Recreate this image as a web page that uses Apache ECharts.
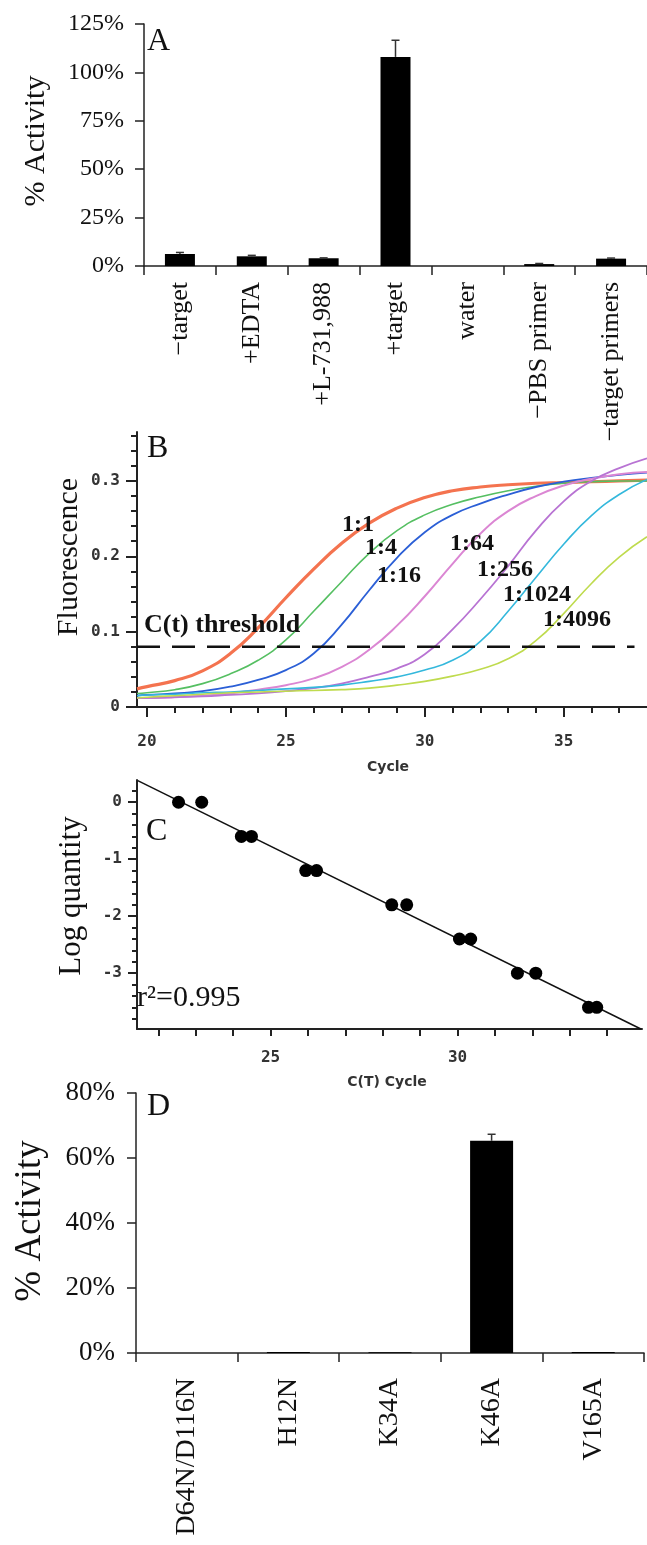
<!DOCTYPE html>
<html>
<head>
<meta charset="utf-8">
<script src="https://cdn.jsdelivr.net/npm/echarts@6/dist/echarts.min.js"></script>
<style>
  html, body { margin: 0; padding: 0; background: #fff; }
  #chart { width: 647px; height: 1545px; }
</style>
</head>
<body>
<div id="chart"></div>
<script>
// A: activity bars
const aCategories = ['−target', '+EDTA', '+L-731,988', '+target', 'water', '−PBS primer', '−target primers'];
const aValues = [6.2, 5.0, 4.0, 108, 0, 1.0, 3.8];
const aErrors = [0.8, 0.5, 0.2, 8.6, 0, 0.3, 0.3];

// B: amplification curves
const cycles = [19.64, 20, 21, 22, 23, 24, 25, 26, 27, 28, 29, 30, 31, 32, 33, 34, 35, 36, 37, 38];
const dil1 = [0.024, 0.027, 0.035, 0.048, 0.071, 0.105, 0.145, 0.183, 0.217, 0.244, 0.264, 0.278, 0.287, 0.292, 0.295, 0.297, 0.298, 0.299, 0.300, 0.301];
const dil4 = [0.018, 0.019, 0.023, 0.031, 0.044, 0.062, 0.089, 0.127, 0.166, 0.204, 0.234, 0.255, 0.269, 0.279, 0.287, 0.293, 0.297, 0.299, 0.300, 0.300];
const dil16 = [0.015, 0.016, 0.018, 0.021, 0.027, 0.036, 0.049, 0.071, 0.109, 0.155, 0.198, 0.232, 0.255, 0.270, 0.282, 0.292, 0.299, 0.304, 0.308, 0.311];
const dil64 = [0.012, 0.012, 0.013, 0.015, 0.018, 0.023, 0.029, 0.038, 0.053, 0.076, 0.108, 0.147, 0.190, 0.230, 0.260, 0.280, 0.294, 0.303, 0.309, 0.312];
const dil256 = [0.012, 0.012, 0.013, 0.014, 0.016, 0.018, 0.021, 0.025, 0.031, 0.040, 0.051, 0.070, 0.103, 0.143, 0.187, 0.234, 0.273, 0.300, 0.317, 0.330];
const dil1024 = [0.015, 0.016, 0.017, 0.019, 0.020, 0.022, 0.024, 0.026, 0.029, 0.034, 0.040, 0.049, 0.062, 0.087, 0.127, 0.172, 0.216, 0.254, 0.282, 0.302];
const dil4096 = [0.012, 0.013, 0.015, 0.017, 0.019, 0.020, 0.021, 0.022, 0.023, 0.025, 0.029, 0.034, 0.041, 0.050, 0.064, 0.088, 0.124, 0.164, 0.199, 0.226];
const threshold = 0.08;
const thresholdCycles = [19.64, 37.55];
const bMajorX = [20, 25, 30, 35];
const bMinorX = [20, 21, 22, 23, 24, 25, 26, 27, 28, 29, 30, 31, 32, 33, 34, 35, 36, 37];
const bMajorY = [0, 0.1, 0.2, 0.3];
const bMinorY = [0, 0.02, 0.04, 0.06, 0.08, 0.1, 0.12, 0.14, 0.16, 0.18, 0.2, 0.22, 0.24, 0.26, 0.28, 0.3, 0.32, 0.34, 0.36];

// C: standard curve
const ctCycle = [22.54, 23.16, 24.22, 24.49, 25.94, 26.23, 28.24, 28.64, 30.05, 30.35, 31.6, 32.09, 33.5, 33.72];
const logQty = [0, 0, -0.6, -0.6, -1.2, -1.2, -1.8, -1.8, -2.4, -2.4, -3.0, -3.0, -3.6, -3.6];
const fitX = [21.45, 34.9];
const fitY = [0.38, -3.98];
const cTicksX = [22, 23, 24, 25, 26, 27, 28, 29, 30, 31, 32, 33, 34];
const cLabelsX = [25, 30];
const cMajorY = [0, -1, -2, -3];
const cMinorY = [0.2, 0, -0.2, -0.4, -0.6, -0.8, -1, -1.2, -1.4, -1.6, -1.8, -2, -2.2, -2.4, -2.6, -2.8, -3, -3.2, -3.4, -3.6, -3.8];

// D: mutant activity
const dCategories = ['D64N/D116N', 'H12N', 'K34A', 'K46A', 'V165A'];
const dValues = [0, 0.3, 0.2, 65.3, 0.3];
const dErrors = [0, 0, 0, 2.0, 0];

const serif = 'Liberation Serif';
const mono = 'DejaVu Sans Mono';
const axisCol = '#222';

const chart = echarts.init(document.getElementById('chart'), null, { renderer: 'canvas' });

// 误差线
const errorBar = (params, api) => {
  const err = api.value(2);
  if (!err) return null;
  const top = api.coord([api.value(0), api.value(1) + err]);
  const bot = api.coord([api.value(0), api.value(1)]);
  const st = { stroke: '#333', lineWidth: 1.5 };
  return {
    type: 'group',
    children: [
      { type: 'line', shape: { x1: top[0], y1: top[1], x2: bot[0], y2: bot[1] }, style: st },
      { type: 'line', shape: { x1: top[0] - 4, y1: top[1], x2: top[0] + 4, y2: top[1] }, style: st }
    ]
  };
};

const plainLine = { show: true, onZero: false, lineStyle: { color: axisCol, width: 1.5 } };
const thickLine = { show: true, onZero: false, lineStyle: { color: axisCol, width: 2 } };

const curve = (name, data, color, width) => ({
  name, type: 'line', xAxisIndex: 1, yAxisIndex: 1,
  data: cycles.map((c, i) => [c, data[i]]),
  smooth: 0.5, showSymbol: false, symbol: 'none',
  lineStyle: { color, width }, z: 3
});

const txt = (text, x, y, font, opts = {}) => ({
  type: 'text', x, y, rotation: opts.rot || 0, z: 100,
  style: {
    text, font, fill: opts.fill || '#111',
    align: opts.align || 'left', verticalAlign: 'middle'
  }
});

chart.setOption({
  animation: false,
  backgroundColor: '#fff',
  grid: [
    { left: 144, top: 24, width: 503, height: 242 },
    { left: 137, top: 432, width: 510, height: 275 },
    { left: 137, top: 780, width: 505, height: 249 },
    { left: 136, top: 1093, width: 508, height: 260 }
  ],
  xAxis: [
    {
      gridIndex: 0, type: 'category', data: aCategories,
      axisLine: plainLine,
      axisTick: { show: true, length: 9, interval: 0, lineStyle: { color: axisCol, width: 1.5 } },
      axisLabel: { interval: 0, rotate: 90, margin: 16, fontFamily: serif, fontSize: 26, color: '#111' }
    },
    {
      gridIndex: 1, type: 'value', min: 19.64, max: 38, position: 'bottom',
      axisLine: thickLine,
      axisTick: { show: true, length: 10, customValues: bMajorX, lineStyle: { color: axisCol, width: 2 } },
      axisLabel: { customValues: bMajorX, margin: 27, fontFamily: mono, fontWeight: 'bold', fontSize: 16, color: '#333' },
      splitLine: { show: false }
    },
    {
      gridIndex: 1, type: 'value', min: 19.64, max: 38, position: 'bottom',
      axisLine: { show: false, onZero: false },
      axisTick: { show: true, length: 6, customValues: bMinorX, lineStyle: { color: axisCol, width: 2 } },
      axisLabel: { show: false },
      splitLine: { show: false }
    },
    {
      gridIndex: 2, type: 'value', min: 21.43, max: 34.93, position: 'bottom',
      axisLine: thickLine,
      axisTick: { show: true, length: 7, customValues: cTicksX, lineStyle: { color: axisCol, width: 2 } },
      axisLabel: { customValues: cLabelsX, margin: 21, fontFamily: mono, fontWeight: 'bold', fontSize: 16, color: '#333' },
      splitLine: { show: false }
    },
    {
      gridIndex: 3, type: 'category', data: dCategories,
      axisLine: plainLine,
      axisTick: { show: true, length: 9, interval: 0, lineStyle: { color: axisCol, width: 1.5 } },
      axisLabel: { interval: 0, rotate: 90, margin: 25, fontFamily: serif, fontSize: 28, color: '#111' }
    }
  ],
  yAxis: [
    {
      gridIndex: 0, type: 'value', min: 0, max: 125, interval: 25,
      axisLine: plainLine,
      axisTick: { show: true, length: 9, lineStyle: { color: axisCol, width: 1.5 } },
      axisLabel: { formatter: '{value}%', margin: 20, fontFamily: serif, fontSize: 24, color: '#111' },
      splitLine: { show: false }
    },
    {
      gridIndex: 1, type: 'value', min: 0, max: 0.365, position: 'left',
      axisLine: thickLine,
      axisTick: { show: true, length: 11, customValues: bMajorY, lineStyle: { color: axisCol, width: 2 } },
      axisLabel: {
        customValues: bMajorY, margin: 17, fontFamily: mono, fontWeight: 'bold', fontSize: 16, color: '#333',
        formatter: v => (v === 0 ? '0' : v.toFixed(1))
      },
      splitLine: { show: false }
    },
    {
      gridIndex: 1, type: 'value', min: 0, max: 0.365, position: 'left',
      axisLine: { show: false, onZero: false },
      axisTick: { show: true, length: 6, customValues: bMinorY, lineStyle: { color: axisCol, width: 2 } },
      axisLabel: { show: false },
      splitLine: { show: false }
    },
    {
      gridIndex: 2, type: 'value', min: -3.98, max: 0.39, position: 'left',
      axisLine: thickLine,
      axisTick: { show: true, length: 9, customValues: cMajorY, lineStyle: { color: axisCol, width: 2 } },
      axisLabel: { customValues: cMajorY, margin: 15, fontFamily: mono, fontWeight: 'bold', fontSize: 16, color: '#333' },
      splitLine: { show: false }
    },
    {
      gridIndex: 2, type: 'value', min: -3.98, max: 0.39, position: 'left',
      axisLine: { show: false, onZero: false },
      axisTick: { show: true, length: 5, customValues: cMinorY, lineStyle: { color: axisCol, width: 2 } },
      axisLabel: { show: false },
      splitLine: { show: false }
    },
    {
      gridIndex: 3, type: 'value', min: 0, max: 80, interval: 20,
      axisLine: plainLine,
      axisTick: { show: true, length: 9, lineStyle: { color: axisCol, width: 1.5 } },
      axisLabel: { formatter: '{value}%', margin: 21, fontFamily: serif, fontSize: 27, color: '#111' },
      splitLine: { show: false }
    }
  ],
  series: [
    {
      type: 'bar', xAxisIndex: 0, yAxisIndex: 0, data: aValues, barWidth: 30,
      itemStyle: { color: '#000' }
    },
    {
      type: 'custom', xAxisIndex: 0, yAxisIndex: 0, renderItem: errorBar,
      data: aValues.map((v, i) => [i, v, aErrors[i]]), z: 5
    },
    curve('1:1', dil1, '#f4734f', 3.2),
    curve('1:4', dil4, '#55bf62', 1.6),
    curve('1:16', dil16, '#2b5fd6', 1.8),
    curve('1:64', dil64, '#db86d3', 2),
    curve('1:256', dil256, '#b873d3', 1.8),
    curve('1:1024', dil1024, '#34b8dc', 1.6),
    curve('1:4096', dil4096, '#bfdb4e', 1.6),
    {
      type: 'line', xAxisIndex: 1, yAxisIndex: 1, symbol: 'none',
      data: thresholdCycles.map(c => [c, threshold]),
      lineStyle: { color: '#111', width: 2.5, type: [23, 12] }, z: 4
    },
    {
      type: 'line', xAxisIndex: 3, yAxisIndex: 3, symbol: 'none',
      data: fitX.map((x, i) => [x, fitY[i]]),
      lineStyle: { color: '#111', width: 1.5 }
    },
    {
      type: 'scatter', xAxisIndex: 3, yAxisIndex: 3, symbolSize: 13,
      data: ctCycle.map((x, i) => [x, logQty[i]]),
      itemStyle: { color: '#000', opacity: 1 }, z: 4
    },
    {
      type: 'bar', xAxisIndex: 4, yAxisIndex: 5, data: dValues, barWidth: 43,
      itemStyle: { color: '#000' }
    },
    {
      type: 'custom', xAxisIndex: 4, yAxisIndex: 5, renderItem: errorBar,
      data: dValues.map((v, i) => [i, v, dErrors[i]]), z: 5
    }
  ],
  graphic: [
    txt('A', 147, 42, `32px "${serif}"`),
    txt('B', 147, 449, `32px "${serif}"`),
    txt('C', 146, 832, `32px "${serif}"`),
    txt('D', 147, 1107, `32px "${serif}"`),
    txt('% Activity', 36, 141, `30px "${serif}"`, { rot: Math.PI / 2, align: 'center' }),
    txt('Fluorescence', 69, 557, `30px "${serif}"`, { rot: Math.PI / 2, align: 'center' }),
    txt('Log quantity', 72, 896, `31px "${serif}"`, { rot: Math.PI / 2, align: 'center' }),
    txt('% Activity', 30, 1221, `37px "${serif}"`, { rot: Math.PI / 2, align: 'center' }),
    txt('Cycle', 388, 767, 'bold 14px "DejaVu Sans"', { align: 'center', fill: '#333' }),
    txt('C(T) Cycle', 387, 1082, 'bold 14px "DejaVu Sans"', { align: 'center', fill: '#333' }),
    txt('C(t) threshold', 144, 625, `bold 26px "${serif}"`),
    txt('1:1', 342, 525, `bold 24px "${serif}"`),
    txt('1:4', 365, 548, `bold 24px "${serif}"`),
    txt('1:16', 377, 576, `bold 24px "${serif}"`),
    txt('1:64', 450, 544, `bold 24px "${serif}"`),
    txt('1:256', 477, 570, `bold 24px "${serif}"`),
    txt('1:1024', 503, 595, `bold 24px "${serif}"`),
    txt('1:4096', 543, 620, `bold 24px "${serif}"`),
    txt('r²=0.995', 137, 998, `30px "${serif}"`)
  ]
});
</script>
</body>
</html>
